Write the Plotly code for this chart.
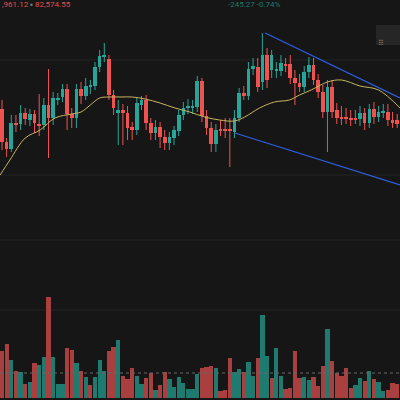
import plotly.graph_objects as go

# candle bodies read as pixel rows (top, bottom), colour, wick extents (pixel rows)
body_top = [109,142,123,123,113,113,114,114,124,105,105,98,99,89,89,114,89,89,86,86,67,56,55,59,95,110,110,113,
            127,103,100,100,123,127,127,137,137,130,115,108,106,106,81,81,116,128,130,129,129,130,118,93,93,69,66,67,
            55,55,55,70,63,64,64,78,83,72,65,65,80,92,87,87,110,117,117,118,118,113,113,109,109,112,111,112,120,120]
body_bot = [142,149,149,125,124,119,120,123,126,125,118,118,100,97,114,118,118,96,96,87,86,67,57,95,108,113,113,128,
            130,130,105,123,133,133,137,143,143,138,131,115,108,108,107,116,128,144,144,131,131,131,132,118,96,96,69,87,
            82,80,70,71,71,66,78,83,87,87,72,80,92,112,112,112,118,119,119,120,120,119,123,123,117,117,113,120,123,124]
wick_top = [100,138,115,115,105,108,109,110,94,98,69,92,93,84,84,108,84,82,78,80,62,50,43,55,90,100,104,106,
            122,98,96,95,118,120,122,130,132,126,110,102,99,100,76,78,110,122,124,120,118,118,110,88,86,62,58,58,
            33,48,50,62,55,58,55,70,74,66,57,58,74,85,80,80,103,106,108,110,110,106,108,104,102,106,104,104,112,114]
wick_bot = [150,157,152,132,130,125,126,133,136,130,158,125,105,102,130,128,128,104,100,94,90,72,62,100,115,145,145,140,
            140,135,110,130,140,140,148,150,150,145,136,120,114,114,112,122,135,152,152,136,138,167,138,122,100,100,75,92,
            90,88,78,78,76,72,84,105,92,92,78,85,98,118,152,118,124,125,124,126,124,126,130,128,124,122,118,126,128,128]
is_up = [0,0,1,0,1,0,1,0,0,1,0,1,1,1,0,0,1,0,1,1,1,1,1,0,0,1,0,0,
         0,1,1,0,0,1,0,0,1,1,1,1,1,1,1,0,0,0,1,0,0,0,1,1,0,1,1,0,
         1,0,1,1,1,0,0,0,0,1,1,0,0,0,1,0,0,0,0,0,0,1,0,1,0,1,1,0,0,0]

# moving average (candle index, pixel row)
ma_idx = [-0.4,1.7,5,8.2,11.4,15,17,19,21,23,25.6,28,30.8,34,37.2,40.4,43.6,46.8,50,52.2,55.4,58.6,61.8,64,66.5,70,73,77,81,85.6]
ma_row = [175,160,138,130,118,114,112,105,98,97,97,97,99,103,108,112,117,120,121,117,108,102,100,95,90,82,80,86,90,108]

# volume bar tops (pixel rows) and direction
vol_top = [351,344,360,371,372,384,382,363,365,357,297,357,384,384,348,350,363,371,377,385,377,360,371,351,347,340,376,379,368,376,384,378,373,390,385,372,379,387,377,383,389,389,374,
           368,367,366,368,391,390,358,372,369,372,362,376,358,315,356,378,348,376,389,388,351,378,377,380,377,386,366,329,361,373,376,368,388,385,378,381,371,379,382,391,390,383,384]
vol_up = [0,0,1,0,1,0,1,0,1,1,0,1,1,1,0,0,1,0,1,0,1,1,1,0,0,1,0,0,0,1,1,0,0,1,0,0,1,1,1,1,1,1,1,
          0,0,0,1,0,0,0,1,1,0,1,1,0,1,1,0,1,1,0,0,0,0,1,1,0,0,0,1,0,0,0,0,0,1,1,0,1,0,1,1,0,0,0]

n = len(body_top)
x = list(range(n))
UP, DN = "#26a69a", "#ef5350"
ccol = [UP if u else DN for u in is_up]

fig = go.Figure()
vols = [398 - t for t in vol_top]
fig.add_trace(go.Bar(x=list(range(len(vols))), y=vols, yaxis="y2",
                     marker=dict(color=["#1f7a6f" if u else "#a9403f" for u in vol_up], line_width=0),
                     width=0.92, showlegend=False))
# wicks
for col in (UP, DN):
    wx, wy = [], []
    for i in range(n):
        if ccol[i] == col:
            wx += [i, i, None]
            wy += [-wick_top[i], -wick_bot[i], None]
    fig.add_trace(go.Scatter(x=wx, y=wy, mode="lines", line=dict(color=col, width=1), showlegend=False))
# bodies
fig.add_trace(go.Bar(x=x, y=[max(b - t, 1.2) for t, b in zip(body_top, body_bot)],
                     base=[-b for b in body_bot], marker=dict(color=ccol, line_width=0),
                     width=0.78, showlegend=False))
fig.add_trace(go.Scatter(x=ma_idx, y=[-r for r in ma_row], mode="lines",
                         line=dict(color="#c8b560", width=1, shape="spline"), showlegend=False))

# trend channel lines (index, row)
fig.add_trace(go.Scatter(x=[56.6, 85.6], y=[-33, -98], mode="lines", line=dict(color="#2f5fe0", width=1.3), showlegend=False))
fig.add_trace(go.Scatter(x=[50.1, 85.6], y=[-133, -185], mode="lines", line=dict(color="#2f5fe0", width=1.3), showlegend=False))

shapes = []
for gy in [60, 175, 240, 310]:
    shapes.append(dict(type="line", xref="paper", yref="paper", x0=0, x1=1, y0=1 - gy / 400, y1=1 - gy / 400,
                       line=dict(color="#222222", width=1), layer="below"))
shapes.append(dict(type="line", xref="paper", yref="paper", x0=0, x1=1, y0=1 - 373 / 400, y1=1 - 373 / 400,
                   line=dict(color="#666666", width=1, dash="dot")))
shapes.append(dict(type="rect", xref="paper", yref="paper", x0=376 / 400, x1=1.01, y0=1 - 45 / 400, y1=1 - 25 / 400,
                   fillcolor="#262626", line_width=0))
fig.update_layout(
    width=400, height=400, margin=dict(l=0, r=0, t=0, b=0),
    paper_bgcolor="#161616", plot_bgcolor="#161616",
    xaxis=dict(range=[-0.43, 85.6], visible=False),
    yaxis=dict(range=[-400, 0], visible=False),
    yaxis2=dict(range=[-2, 398], overlaying="y", visible=False),
    shapes=shapes, bargap=0, barmode="overlay",
    annotations=[
        dict(xref="paper", yref="paper", x=0, y=1.006, xanchor="left", yanchor="top", showarrow=False,
             text="<span style='color:#e05050'>,961.12</span> <span style='color:#888'>▪</span> <span style='color:#e05050'>82,574.55</span>",
             font=dict(size=8, family="Roboto")),
        dict(xref="paper", yref="paper", x=0.565, y=1.006, xanchor="left", yanchor="top", showarrow=False,
             text="-245.27 -0.74%", font=dict(size=8, family="Roboto", color="#1f7a6f")),
        dict(xref="paper", yref="paper", x=386 / 400, y=1 - 35 / 400, showarrow=False,
             text="⠿", font=dict(size=8, color="#777")),
    ],
)
fig.write_html("out.html", config={"displayModeBar": False},
               post_script="document.body.style.margin='0';document.body.style.background='#161616';")
